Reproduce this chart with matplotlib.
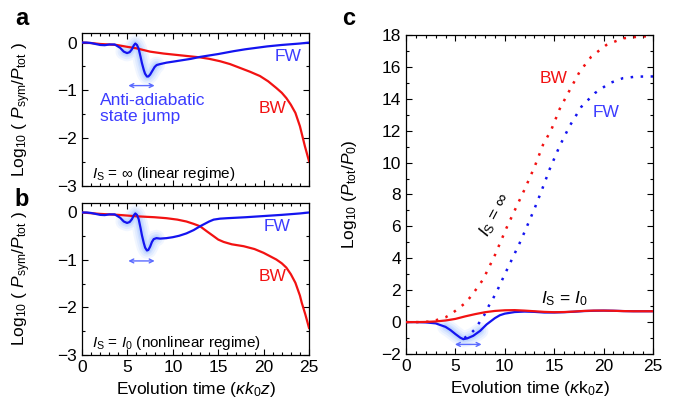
import matplotlib
matplotlib.use("Agg")
import matplotlib.pyplot as plt
from matplotlib.ticker import MultipleLocator

plt.rcParams['font.family'] = ['Liberation Sans', 'DejaVu Sans']
plt.rcParams['mathtext.fontset'] = 'custom'
plt.rcParams['mathtext.rm'] = 'Liberation Sans'
plt.rcParams['mathtext.it'] = 'Liberation Sans:italic'
plt.rcParams['mathtext.bf'] = 'Liberation Sans:bold'

# ---------------- data ----------------
# panel a (I_S = inf)
a_fw_x = [0, 0.5, 1, 1.5, 2, 2.5, 3, 3.6, 4.2, 4.6, 4.96, 5.25, 5.5, 5.7, 5.87, 6.05, 6.24, 6.45, 6.6,
          6.8, 6.94, 7.15, 7.3, 7.5, 7.78, 8.0, 8.22, 8.6, 9.3, 10, 11, 12, 13, 14, 15, 16.7, 18, 20.4,
          22, 24, 25]
a_fw_y = [0, 0, -0.01, -0.03, -0.05, -0.055, -0.04, -0.04, -0.11, -0.19, -0.22, -0.2, -0.14, -0.06,
          -0.02, -0.05, -0.13, -0.3, -0.43, -0.57, -0.65, -0.71, -0.71, -0.67, -0.58, -0.51, -0.47,
          -0.45, -0.42, -0.4, -0.37, -0.34, -0.30, -0.27, -0.24, -0.18, -0.14, -0.08, -0.05, -0.02, 0]
a_bw_x = [0, 1, 2, 3, 3.8, 5, 6, 7.5, 9, 10, 11, 12, 13, 14, 15.2, 16.3, 17.4, 18.5, 19.6, 20.5,
          21.4, 22, 22.5, 23, 23.5, 24, 24.55, 25]
a_bw_y = [0, -0.01, -0.03, -0.04, -0.05, -0.09, -0.12, -0.19, -0.23, -0.25, -0.27, -0.29, -0.31,
          -0.34, -0.39, -0.45, -0.53, -0.61, -0.70, -0.81, -0.95, -1.05, -1.16, -1.3, -1.47, -1.75,
          -2.17, -2.48]

# panel b (I_S = I_0)
b_fw_x = [0, 0.5, 1, 1.5, 2, 2.5, 3, 3.6, 4.2, 4.6, 4.96, 5.25, 5.5, 5.7, 5.87, 6.05, 6.24, 6.45, 6.6,
          6.8, 6.95, 7.15, 7.3, 7.5, 7.7, 7.9, 8.2, 8.6, 9.3, 10, 10.7, 11.5, 12.3, 13, 13.5, 14, 14.5,
          15.2, 16, 18, 20.4, 22, 24, 25]
b_fw_y = [0, 0, -0.01, -0.03, -0.05, -0.055, -0.04, -0.04, -0.11, -0.19, -0.22, -0.2, -0.14, -0.06,
          -0.02, -0.05, -0.14, -0.33, -0.48, -0.64, -0.74, -0.8, -0.79, -0.72, -0.62, -0.56, -0.54,
          -0.55, -0.54, -0.52, -0.49, -0.44, -0.37, -0.29, -0.24, -0.19, -0.15, -0.13, -0.12, -0.1,
          -0.07, -0.05, -0.02, 0]
b_bw_x = [0, 2, 4, 6, 8, 9.3, 10.5, 11.5, 12.3, 13, 13.7, 14.5, 15, 15.6, 16.5, 17.8, 19, 20, 21.4,
          22, 22.5, 23, 23.5, 24, 24.2, 24.6, 25]
b_bw_y = [0, -0.03, -0.05, -0.08, -0.1, -0.12, -0.15, -0.19, -0.24, -0.29, -0.39, -0.5, -0.57, -0.62,
          -0.67, -0.71, -0.77, -0.85, -0.99, -1.07, -1.16, -1.3, -1.48, -1.75, -1.9, -2.15, -2.43]

# panel c: total power
c_inf_bw_x = [0, 1.5, 2.4, 3.1, 4, 4.6, 5.3, 6.1, 6.8, 7.8, 9, 10.17, 11, 12.02, 13.03, 13.87, 14.7,
              15.56, 16.4, 17.58, 18.75, 20.27, 21.95, 23.64, 25]
c_inf_bw_y = [0, 0, 0.03, 0.13, 0.3, 0.52, 0.85, 1.25, 1.8, 2.67, 4.2, 5.9, 7.0, 8.34, 9.76, 11.12,
              12.05, 13.37, 14.35, 15.7, 16.64, 17.37, 17.79, 17.9, 17.93]
c_inf_fw_x = [5.9, 6.4, 6.9, 7.4, 7.9, 8.4, 9.1, 10, 11, 11.5, 12, 13, 13.7, 14.55, 15.56, 16.57,
              17.75, 19.1, 20.6, 21.95, 23.3, 25]
c_inf_fw_y = [-1.0, -0.8, -0.5, -0.05, 0.42, 1.04, 1.8, 3.0, 4.3, 4.95, 5.65, 7.1, 8.2, 9.6, 11.05,
              12.3, 13.5, 14.35, 14.98, 15.29, 15.39, 15.4]
c_nl_bw_x = [0, 1, 2, 3, 4, 5, 6, 7, 8, 9, 10, 11, 12, 13, 14, 15, 16, 17, 18, 19, 20, 21, 22, 23,
             24, 25]
c_nl_bw_y = [0, 0, 0.01, 0.04, 0.1, 0.2, 0.36, 0.5, 0.62, 0.7, 0.74, 0.75, 0.72, 0.68, 0.64, 0.62,
             0.63, 0.66, 0.7, 0.72, 0.72, 0.71, 0.69, 0.68, 0.68, 0.68]
c_nl_fw_x = [0, 1, 2, 3, 4, 4.5, 5, 5.5, 5.8, 6.2, 6.8, 7.5, 8.15, 9, 9.5, 10, 11, 12, 13, 14, 15,
             16, 17, 18, 19, 20, 21, 22, 23, 24, 25]
c_nl_fw_y = [0, 0, -0.02, -0.08, -0.3, -0.5, -0.75, -0.98, -1.07, -1.02, -0.86, -0.55, -0.15, 0.25,
             0.43, 0.53, 0.63, 0.66, 0.64, 0.6, 0.6, 0.62, 0.65, 0.69, 0.71, 0.72, 0.71, 0.69, 0.68,
             0.68, 0.68]

BLUE = '#1414f0'
BLUE_TXT = '#3c3cff'
RED = '#f21212'
GLOW = '#8fb8ff'
ARROW = '#5b6bff'
TICK_FS = 12.5
LAB_FS = 12.5


def glow(ax, xs, ys, x0, x1):
    px = [x for x in xs if x0 <= x <= x1]
    py = [y for x, y in zip(xs, ys) if x0 <= x <= x1]
    for lw, al in [(12, 0.12), (9, 0.15), (6, 0.2), (4, 0.25)]:
        ax.plot(px, py, color=GLOW, lw=lw, alpha=al, solid_capstyle='round', zorder=1)


def dbl_arrow(ax, x0, x1, y):
    ax.annotate('', xy=(x0, y), xytext=(x1, y),
                arrowprops=dict(arrowstyle='<->', color=ARROW, lw=1.0,
                                shrinkA=0, shrinkB=0, mutation_scale=7))


def style(ax, ymaj, ymin):
    ax.set_xlim(0, 25)
    ax.xaxis.set_major_locator(MultipleLocator(5))
    ax.xaxis.set_minor_locator(MultipleLocator(1))
    ax.yaxis.set_major_locator(MultipleLocator(ymaj))
    ax.yaxis.set_minor_locator(MultipleLocator(ymin))
    ax.tick_params(which='both', direction='in', top=True, right=True, labelsize=TICK_FS,
                   width=0.8)
    ax.tick_params(which='major', length=4)
    ax.tick_params(which='minor', length=2)
    for s in ax.spines.values():
        s.set_linewidth(0.9)


fig = plt.figure(figsize=(6.75, 4.11), dpi=100)
axa = fig.add_axes([0.1215, 0.5474, 0.3363, 0.3723])
axb = fig.add_axes([0.1215, 0.1363, 0.3363, 0.3698])
axc = fig.add_axes([0.6015, 0.1387, 0.3659, 0.7762])

ylab = 'Log$_{10}$ ( $P_{\\rm sym}$/$P_{\\rm tot}$ )'

# ---- panel a ----
glow(axa, a_fw_x, a_fw_y, 4.3, 8.3)
axa.plot(a_bw_x, a_bw_y, color=RED, lw=1.6, zorder=3)
axa.plot(a_fw_x, a_fw_y, color=BLUE, lw=1.6, zorder=4)
style(axa, 1, 0.5)
axa.set_ylim(-3, 0.2)
axa.set_xticklabels([])
axa.set_ylabel(ylab, fontsize=LAB_FS)
axa.yaxis.set_label_coords(-0.215, 0.5)
dbl_arrow(axa, 5.1, 8.0, -0.9)
axa.text(22.7, -0.3, 'FW', color=BLUE_TXT, fontsize=12.5, ha='center', va='center')
axa.text(21.0, -1.38, 'BW', color=RED, fontsize=12.5, ha='center', va='center')
axa.text(2.0, -1.38, 'Anti-adiabatic\nstate jump', color=BLUE_TXT, fontsize=12.5, ha='left',
         va='center', linespacing=1.05)
axa.text(1.15, -2.75, '$I_{\\rm S}$ = ∞ (linear regime)', fontsize=11, ha='left', va='center')
fig.text(0.022, 0.955, 'a', fontsize=17, fontweight='bold', ha='left', va='center')

# ---- panel b ----
glow(axb, b_fw_x, b_fw_y, 4.3, 8.3)
axb.plot(b_bw_x, b_bw_y, color=RED, lw=1.6, zorder=3)
axb.plot(b_fw_x, b_fw_y, color=BLUE, lw=1.6, zorder=4)
style(axb, 1, 0.5)
axb.set_ylim(-3, 0.2)
axb.set_ylabel(ylab, fontsize=LAB_FS)
axb.yaxis.set_label_coords(-0.215, 0.5)
axb.set_xlabel('Evolution time ($\\kappa k_0 z$)', fontsize=LAB_FS)
dbl_arrow(axb, 5.1, 8.0, -1.02)
axb.text(21.5, -0.29, 'FW', color=BLUE_TXT, fontsize=12.5, ha='center', va='center')
axb.text(21.0, -1.35, 'BW', color=RED, fontsize=12.5, ha='center', va='center')
axb.text(1.05, -2.75, '$I_{\\rm S}$ = $I_0$ (nonlinear regime)', fontsize=11, ha='left',
         va='center')
fig.text(0.022, 0.515, 'b', fontsize=17, fontweight='bold', ha='left', va='center')

# ---- panel c ----
glow(axc, c_nl_fw_x, c_nl_fw_y, 3.8, 8.0)
axc.plot(c_inf_bw_x, c_inf_bw_y, color=RED, lw=1.8, ls=(0, (1, 3)), dash_capstyle='butt', zorder=2)
axc.plot(c_inf_fw_x, c_inf_fw_y, color=BLUE, lw=1.8, ls=(0, (1, 3)), dash_capstyle='butt', zorder=2)
axc.plot(c_nl_fw_x, c_nl_fw_y, color=BLUE, lw=1.6, zorder=3)
axc.plot(c_nl_bw_x, c_nl_bw_y, color=RED, lw=1.6, zorder=4)
style(axc, 2, 1)
axc.set_ylim(-2, 18)
axc.set_ylabel('Log$_{10}$ ($P_{\\rm tot}$/$P_0$)', fontsize=LAB_FS)
axc.yaxis.set_label_coords(-0.19, 0.5)
axc.set_xlabel('Evolution time ($\\kappa$k$_0$z)', fontsize=LAB_FS)
dbl_arrow(axc, 4.95, 7.65, -1.4)
axc.text(14.95, 15.25, 'BW', color=RED, fontsize=12.5, ha='center', va='center')
axc.text(20.3, 13.14, 'FW', color=BLUE_TXT, fontsize=12.5, ha='center', va='center')
axc.text(9.0, 6.7, '$I_{\\rm S}$ = ∞', fontsize=12.5, ha='center', va='center', rotation=62)
axc.text(13.7, 1.45, '$I_{\\rm S}$ = $I_0$', fontsize=12.5, ha='left', va='center')
fig.text(0.507, 0.955, 'c', fontsize=17, fontweight='bold', ha='left', va='center')

fig.savefig('out.png', dpi=100)
